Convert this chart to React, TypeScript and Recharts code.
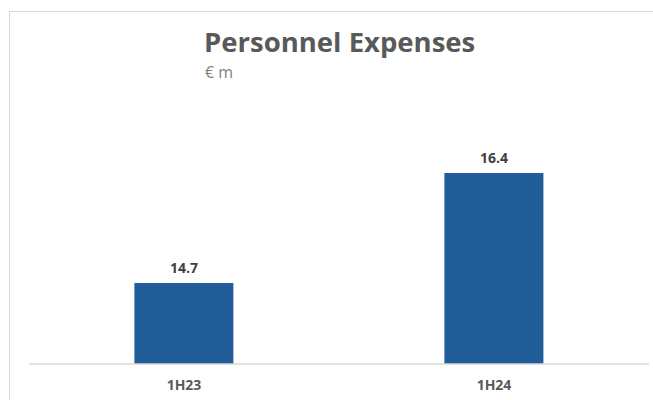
import { BarChart, Bar, XAxis, YAxis, LabelList } from 'recharts';

const periods = ['1H23', '1H24'];
const expenses = [14.7, 16.4];

const data = periods.map((p, i) => ({ period: p, value: expenses[i] }));

export default function App() {
  return (
    <div style={{ position: 'absolute', left: 0, top: 0, width: 653, height: 400, overflow: 'hidden', background: '#fff' }}>
      <div
        style={{
          position: 'absolute',
          left: 9,
          top: 11,
          width: 700,
          height: 420,
          borderLeft: '1px solid #d9d9d9',
          borderTop: '1px solid #d9d9d9',
        }}
      />
      <div
        style={{
          position: 'absolute',
          left: 204,
          top: 24,
          fontFamily: '"Open Sans", sans-serif',
          fontWeight: 700,
          fontSize: 27.5,
          color: '#595959',
          lineHeight: '36px',
        }}
      >
        Personnel Expenses
      </div>
      <div
        style={{
          position: 'absolute',
          left: 205,
          top: 61,
          fontFamily: '"Open Sans", sans-serif',
          fontSize: 16,
          color: '#7f7f7f',
          lineHeight: '22px',
        }}
      >
        € m
      </div>
      <div style={{ position: 'absolute', left: 0, top: 0 }}>
        <BarChart
          width={653}
          height={400}
          data={data}
          margin={{ top: 100, right: 4, bottom: 0, left: 29 }}
          barCategoryGap="34%"
        >
          <XAxis
            dataKey="period"
            axisLine={{ stroke: '#d9d9d9', strokeWidth: 1.5 }}
            tickLine={false}
            tickMargin={10}
            height={36}
            tick={{ fill: '#595959', fontSize: 14, fontWeight: 700, fontFamily: '"Open Sans", sans-serif' }}
          />
          <YAxis hide domain={[13.45, 17.53]} allowDataOverflow />
          <Bar dataKey="value" fill="#215e99" isAnimationActive={false}>
            <LabelList
              dataKey="value"
              position="top"
              offset={10}
              fill="#404040"
              fontSize={14}
              fontWeight={700}
              fontFamily='"Open Sans", sans-serif'
            />
          </Bar>
        </BarChart>
      </div>
    </div>
  );
}
